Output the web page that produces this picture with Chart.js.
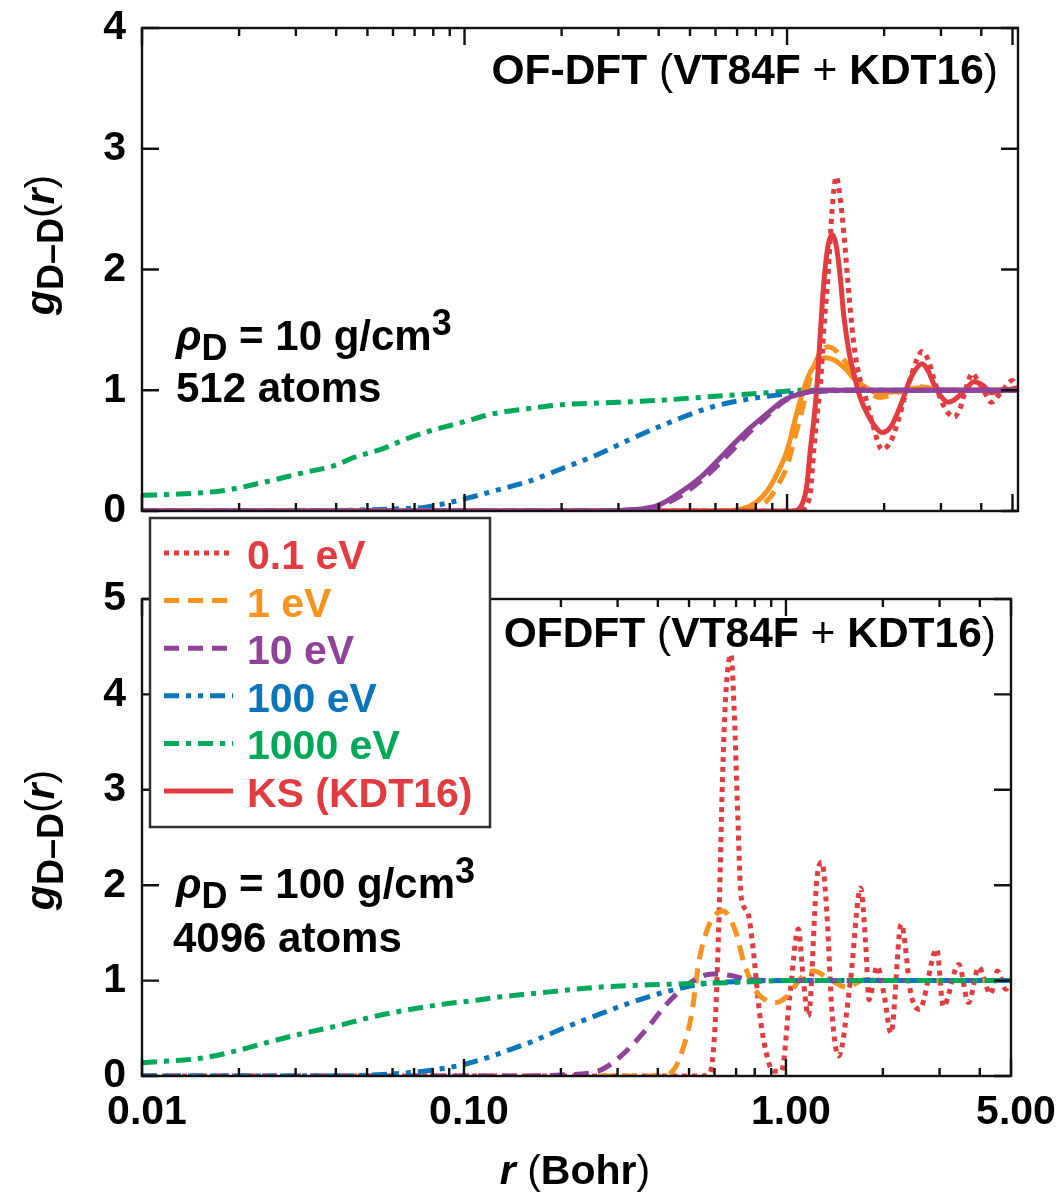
<!DOCTYPE html>
<html>
<head>
<meta charset="utf-8">
<script src="https://cdn.jsdelivr.net/npm/chart.js@4.4.1/dist/chart.umd.min.js"></script>
<style>
  body { margin: 0; background: #fff; width: 1059px; height: 1193px; position: relative; overflow: hidden; }
  #topWrap { position: absolute; left: 0; top: 0; width: 1059px; height: 540px; }
  #botWrap { position: absolute; left: 0; top: 505px; width: 1059px; height: 688px; }
</style>
</head>
<body>
<div id="topWrap"><canvas id="topChart"></canvas></div>
<div id="botWrap"><canvas id="botChart"></canvas></div>
<script>
// axis ticks
const X_TICKS = [0.01, 0.1, 1, 5];
const X_TICK_LABELS = ['0.01', '0.10', '1.00', '5.00'];
const X_MINOR = [0.02, 0.03, 0.04, 0.05, 0.06, 0.07, 0.08, 0.09,
                 0.2, 0.3, 0.4, 0.5, 0.6, 0.7, 0.8, 0.9, 2, 3, 4];
const TOP_Y_TICKS = [0, 1, 2, 3, 4];
const BOT_Y_TICKS = [0, 1, 2, 3, 4, 5];

// top panel: 10 g/cm3, 512 atoms
const top1000_r = [0.01, 0.013, 0.018, 0.024, 0.032, 0.04, 0.045, 0.055, 0.065, 0.073, 0.085, 0.1, 0.12, 0.14, 0.16, 0.2, 0.3, 0.42, 0.6, 0.87, 1.1, 1.5, 2.5, 5.2];
const top1000_g = [0.13, 0.14, 0.17, 0.24, 0.32, 0.38, 0.44, 0.51, 0.59, 0.64, 0.69, 0.74, 0.8, 0.83, 0.85, 0.88, 0.9, 0.92, 0.95, 0.98, 1.0, 1.0, 1.0, 1.0];
const top100_r = [0.01, 0.03, 0.05, 0.065, 0.075, 0.09, 0.1, 0.125, 0.16, 0.2, 0.26, 0.33, 0.42, 0.6, 0.87, 1.24, 2, 5.2];
const top100_g = [0, 0, 0.01, 0.02, 0.03, 0.07, 0.1, 0.17, 0.25, 0.35, 0.47, 0.6, 0.72, 0.87, 0.95, 0.99, 1.0, 1.0];
const top10_r = [0.01, 0.25, 0.33, 0.4, 0.47, 0.54, 0.61, 0.68, 0.77, 0.87, 0.98, 1.1, 1.3, 1.6, 5.2];
const top10ks_g = [0, 0, 0.01, 0.05, 0.16, 0.28, 0.42, 0.55, 0.69, 0.81, 0.92, 0.97, 1.0, 1.0, 1.0];
const top10of_g = [0, 0, 0.01, 0.04, 0.13, 0.25, 0.38, 0.51, 0.66, 0.79, 0.91, 0.97, 1.0, 1.0, 1.0];
const top1ks_r = [0.01, 0.6, 0.73, 0.8, 0.87, 0.94, 1.0, 1.05, 1.1, 1.18, 1.25, 1.32, 1.4, 1.47, 1.55, 1.62, 1.74, 1.9, 2.2, 2.6, 3.2, 5.2];
const top1ks_g = [0, 0, 0.02, 0.07, 0.17, 0.33, 0.5, 0.72, 0.92, 1.15, 1.24, 1.27, 1.25, 1.21, 1.15, 1.09, 1.03, 0.98, 0.99, 1.02, 1.0, 1.0];
const top1of_r = [0.01, 0.65, 0.78, 0.87, 0.94, 1.0, 1.05, 1.1, 1.18, 1.26, 1.34, 1.4, 1.47, 1.55, 1.62, 1.7, 1.78, 1.94, 2.2, 2.6, 3.0, 5.2];
const top1of_g = [0, 0, 0.03, 0.09, 0.22, 0.37, 0.58, 0.78, 1.1, 1.3, 1.36, 1.34, 1.28, 1.2, 1.11, 1.04, 0.99, 0.94, 0.98, 1.03, 1.0, 1.0];
const top01ks_r = [0.01, 1.05, 1.1, 1.15, 1.18, 1.21, 1.24, 1.27, 1.3, 1.34, 1.38, 1.42, 1.46, 1.5, 1.56, 1.62, 1.68, 1.74, 1.85, 1.97, 2.1, 2.26, 2.4, 2.5, 2.62, 2.75, 2.84, 3.0, 3.16, 3.3, 3.56, 3.8, 4.05, 4.3, 4.7, 5.2];
const top01ks_g = [0, 0, 0.03, 0.2, 0.5, 0.75, 1.06, 1.5, 1.89, 2.2, 2.29, 2.2, 1.95, 1.61, 1.3, 1.11, 0.95, 0.85, 0.72, 0.65, 0.7, 0.89, 1.08, 1.17, 1.22, 1.15, 1.06, 0.95, 0.9, 0.92, 1.0, 1.07, 1.04, 0.98, 1.0, 1.02];
const top01of_r = [0.01, 1.1, 1.15, 1.18, 1.21, 1.24, 1.27, 1.3, 1.34, 1.38, 1.42, 1.46, 1.5, 1.56, 1.62, 1.68, 1.74, 1.85, 1.97, 2.1, 2.2, 2.32, 2.42, 2.52, 2.62, 2.74, 2.84, 3.0, 3.16, 3.3, 3.45, 3.6, 3.75, 3.9, 4.1, 4.3, 4.6, 5.0, 5.2];
const top01of_g = [0, 0, 0.05, 0.15, 0.5, 0.8, 1.06, 1.5, 1.95, 2.5, 2.77, 2.6, 2.3, 1.75, 1.33, 1.1, 0.97, 0.7, 0.51, 0.58, 0.73, 0.95, 1.11, 1.25, 1.32, 1.25, 1.11, 0.92, 0.81, 0.78, 0.86, 1.03, 1.14, 1.08, 0.98, 0.9, 0.98, 1.08, 1.0];

// bottom panel: 100 g/cm3, 4096 atoms
const bot1000_r = [0.01, 0.0155, 0.02, 0.025, 0.032, 0.041, 0.052, 0.066, 0.085, 0.107, 0.13, 0.16, 0.26, 0.42, 0.68, 1.0, 5.0];
const bot1000_g = [0.14, 0.19, 0.27, 0.36, 0.45, 0.53, 0.62, 0.69, 0.75, 0.79, 0.83, 0.86, 0.93, 0.96, 0.98, 1.0, 1.0];
const bot100_r = [0.01, 0.04, 0.052, 0.065, 0.075, 0.09, 0.1, 0.12, 0.14, 0.16, 0.2, 0.26, 0.33, 0.42, 0.54, 0.7, 1.0, 5.0];
const bot100_g = [0, 0, 0.01, 0.03, 0.05, 0.09, 0.12, 0.2, 0.28, 0.35, 0.49, 0.64, 0.77, 0.88, 0.96, 0.99, 1.0, 1.0];
const bot10_r = [0.01, 0.15, 0.2, 0.26, 0.29, 0.33, 0.375, 0.42, 0.475, 0.536, 0.59, 0.68, 0.77, 1.0, 5.0];
const bot10_g = [0, 0, 0.01, 0.05, 0.14, 0.31, 0.52, 0.73, 0.91, 1.03, 1.07, 1.05, 1.01, 1.0, 1.0];
const bot1_r = [0.01, 0.42, 0.455, 0.48, 0.51, 0.536, 0.57, 0.6, 0.64, 0.67, 0.7, 0.74, 0.8, 0.87, 0.93, 1.03, 1.1, 1.22, 1.37, 1.55, 1.75, 2.2, 5.0];
const bot1_g = [0, 0, 0.1, 0.3, 0.66, 1.19, 1.54, 1.68, 1.73, 1.65, 1.5, 1.19, 0.91, 0.79, 0.77, 0.87, 1.01, 1.1, 1.01, 0.93, 1.01, 1.0, 1.0];
const bot01_r = [0.01, 0.536, 0.576, 0.59, 0.605, 0.62, 0.635, 0.65, 0.675, 0.691, 0.708, 0.725, 0.76, 0.789, 0.828, 0.869, 0.912, 0.968, 1.028, 1.092, 1.132, 1.174, 1.247, 1.292, 1.34, 1.39, 1.458, 1.587, 1.705, 1.77, 1.81, 1.92, 2.02, 2.12, 2.28, 2.45, 2.6, 2.94, 3.08, 3.44, 3.69, 3.97, 4.32, 4.54, 4.82, 5.0];
const bot01_g = [0, 0, 0.02, 0.14, 0.66, 1.71, 3.1, 3.98, 4.42, 3.81, 2.76, 1.89, 1.72, 1.36, 0.66, 0.24, 0.05, 0.05, 0.84, 1.54, 1.01, 0.63, 2.06, 2.24, 1.71, 0.66, 0.21, 1.01, 1.97, 1.36, 0.8, 1.15, 0.84, 0.45, 1.59, 0.84, 0.7, 1.33, 0.73, 1.17, 0.77, 1.14, 0.86, 1.1, 0.91, 1.0];

const RED = '#e23c41', ORANGE = '#f7931e', PURPLE = '#904199', BLUE = '#0b75bc', GREEN = '#00a85a';
const DOT = [5, 5], DASH = [15, 9], DASHDOTDOT = [15, 7, 5, 7, 5, 7], DASHDOT = [15, 7, 5, 7];

const FAM = '"Liberation Sans", Arial, Helvetica, sans-serif';
const B = 'bold 41px ' + FAM;
const BI = 'italic bold 41px ' + FAM;
const N = '41px ' + FAM;
const CB = 'bold 42.5px ' + FAM;
const CN = '42.5px ' + FAM;
const SUB = 'bold 34px ' + FAM;
const SUB2 = 'bold 36px ' + FAM;

function pts(rs, gs) {
    return rs.map((r, i) => ({ x: r, y: gs[i] }));
}

function line(label, rs, gs, color, dash) {
    return {
        label: label,
        data: pts(rs, gs),
        borderColor: color,
        borderWidth: 5,
        borderDash: dash,
        borderCapStyle: 'butt',
        pointRadius: 0,
        fill: false,
        cubicInterpolationMode: 'monotone'
    };
}

function drawRuns(ctx, item) {
    ctx.save();
    ctx.translate(item.x, item.y);
    if (item.rotate) ctx.rotate(item.rotate);
    let w = 0;
    item.runs.forEach(r => { ctx.font = r.f; w += ctx.measureText(r.t).width; });
    let x = item.align === 'right' ? -w : (item.align === 'center' ? -w / 2 : 0);
    ctx.fillStyle = item.color || '#000';
    ctx.textAlign = 'left';
    ctx.textBaseline = 'alphabetic';
    item.runs.forEach(r => {
        ctx.font = r.f;
        ctx.fillText(r.t, x, r.dy || 0);
        x += ctx.measureText(r.t).width;
    });
    ctx.restore();
}

const LEGEND = [
    ['0.1 eV', RED, DOT],
    ['1 eV', ORANGE, DASH],
    ['10 eV', PURPLE, DASH],
    ['100 eV', BLUE, DASHDOTDOT],
    ['1000 eV', GREEN, DASHDOT],
    ['KS (KDT16)', RED, []]
];

function drawLegend(ctx) {
    ctx.save();
    ctx.fillStyle = '#fff';
    ctx.fillRect(150, 518, 340, 309);
    ctx.strokeStyle = '#333';
    ctx.lineWidth = 2.5;
    ctx.strokeRect(150, 518, 340, 309);
    LEGEND.forEach((it, i) => {
        const y = 553 + i * 47.6;
        ctx.beginPath();
        ctx.setLineDash(it[2]);
        ctx.strokeStyle = it[1];
        ctx.lineWidth = 5;
        ctx.moveTo(164, y);
        ctx.lineTo(233, y);
        ctx.stroke();
        ctx.setLineDash([]);
        ctx.font = B;
        ctx.fillStyle = it[1];
        ctx.textAlign = 'left';
        ctx.textBaseline = 'alphabetic';
        ctx.fillText(it[0], 247, y + 16);
    });
    ctx.restore();
}

const panelDecor = {
    id: 'panelDecor',
    afterDraw(chart, args, opts) {
        const ctx = chart.ctx, a = chart.chartArea;
        const xs = chart.scales.x, ys = chart.scales.y;
        ctx.save();
        ctx.strokeStyle = '#111';
        ctx.lineWidth = 2.4;
        ctx.setLineDash([]);
        ctx.strokeRect(a.left, a.top, a.right - a.left, a.bottom - a.top);
        ctx.beginPath();
        opts.yTicks.forEach(v => {
            const y = ys.getPixelForValue(v);
            ctx.moveTo(a.left, y); ctx.lineTo(a.left + 17, y);
            ctx.moveTo(a.right, y); ctx.lineTo(a.right - 17, y);
        });
        const xt = (v, len) => {
            if (v > xs.max || v < xs.min) return;
            const x = xs.getPixelForValue(v);
            ctx.moveTo(x, a.bottom); ctx.lineTo(x, a.bottom - len);
            ctx.moveTo(x, a.top); ctx.lineTo(x, a.top + len);
        };
        X_MINOR.forEach(v => xt(v, 8));
        X_TICKS.forEach(v => xt(v, 17));
        ctx.stroke();
        ctx.translate(0, -opts.offsetY);
        opts.texts.forEach(t => drawRuns(ctx, t));
        if (opts.legend) drawLegend(ctx);
        ctx.restore();
    }
};

function makeOptions(cfg) {
    return {
        responsive: true,
        maintainAspectRatio: false,
        animation: false,
        devicePixelRatio: 1,
        events: [],
        layout: { padding: { top: cfg.padTop, right: cfg.padRight, left: 0, bottom: 0 } },
        scales: {
            x: {
                type: 'logarithmic',
                min: 0.01,
                max: cfg.xmax,
                grid: { display: false, drawTicks: false },
                border: { display: false },
                afterBuildTicks: s => { s.ticks = X_TICKS.filter(v => v <= cfg.xmax + 1e-9).map(v => ({ value: v })); },
                afterFit: s => { s.height = cfg.xHeight; s.paddingLeft = 0; s.paddingRight = 0; },
                ticks: {
                    display: cfg.showX,
                    autoSkip: false,
                    maxRotation: 0,
                    padding: 12,
                    labelOffset: 5,
                    color: '#000',
                    font: { family: FAM, size: 41, weight: 'bold' },
                    callback: v => X_TICK_LABELS[X_TICKS.indexOf(v)]
                }
            },
            y: {
                min: 0,
                max: cfg.ymax,
                grid: { display: false, drawTicks: false },
                border: { display: false },
                afterFit: s => { s.width = 142; s.paddingTop = 0; s.paddingBottom = 0; },
                ticks: {
                    stepSize: 1,
                    padding: 16,
                    color: '#000',
                    font: { family: FAM, size: 41, weight: 'bold' }
                }
            }
        },
        plugins: {
            legend: { display: false },
            tooltip: { enabled: false },
            panelDecor: cfg.decor
        }
    };
}

const yTitle = (cy) => ({
    x: 54, y: cy, align: 'center', rotate: -Math.PI / 2,
    runs: [{ t: 'g', f: BI }, { t: 'D–D', f: SUB2, dy: 9 }, { t: '(', f: N }, { t: 'r', f: BI }, { t: ')', f: N }]
});

const caption = (first) => [
    { t: first + ' ', f: CB }, { t: '(', f: CN }, { t: 'VT84F ', f: CB },
    { t: '+', f: CN }, { t: ' KDT16', f: CB }, { t: ')', f: CN }
];

const rhoLine = (val) => [
    { t: 'ρ', f: 'italic bold 42px ' + FAM }, { t: 'D', f: SUB2, dy: 10 },
    { t: ' = ' + val + ' g/cm', f: 'bold 42px ' + FAM }, { t: '3', f: SUB2, dy: -15 }
];

new Chart(document.getElementById('topChart'), {
    type: 'line',
    data: {
        datasets: [
            line('10 eV KS', top10_r, top10ks_g, PURPLE, []),
            line('10 eV', top10_r, top10of_g, PURPLE, DASH),
            line('KS 0.1 eV', top01ks_r, top01ks_g, RED, []),
            line('0.1 eV', top01of_r, top01of_g, RED, DOT),
            line('1 eV KS', top1ks_r, top1ks_g, ORANGE, []),
            line('1 eV', top1of_r, top1of_g, ORANGE, DASH),
            line('100 eV', top100_r, top100_g, BLUE, DASHDOTDOT),
            line('1000 eV', top1000_r, top1000_g, GREEN, DASHDOT)
        ]
    },
    options: makeOptions({
        xmax: 5.2, ymax: 4, padTop: 28, padRight: 41, xHeight: 29, showX: false,
        decor: {
            offsetY: 0,
            yTicks: TOP_Y_TICKS,
            legend: false,
            texts: [
                { x: 998, y: 84, align: 'right', runs: caption('OF-DFT') },
                { x: 176, y: 350, align: 'left', runs: rhoLine('10') },
                { x: 176, y: 402, align: 'left', runs: [{ t: '512 atoms', f: 'bold 42px ' + FAM }] },
                yTitle(245)
            ]
        }
    }),
    plugins: [panelDecor]
});

new Chart(document.getElementById('botChart'), {
    type: 'line',
    data: {
        datasets: [
            line('1000 eV', bot1000_r, bot1000_g, GREEN, DASHDOT),
            line('100 eV', bot100_r, bot100_g, BLUE, DASHDOTDOT),
            line('10 eV', bot10_r, bot10_g, PURPLE, DASH),
            line('1 eV', bot1_r, bot1_g, ORANGE, DASH),
            line('0.1 eV', bot01_r, bot01_g, RED, DOT)
        ]
    },
    options: makeOptions({
        xmax: 5.0, ymax: 5, padTop: 94, padRight: 48, xHeight: 117, showX: true,
        decor: {
            offsetY: 505,
            yTicks: BOT_Y_TICKS,
            legend: true,
            texts: [
                { x: 996, y: 647, align: 'right', runs: caption('OFDFT') },
                { x: 176, y: 898, align: 'left', runs: rhoLine('100') },
                { x: 173, y: 952, align: 'left', runs: [{ t: '4096 atoms', f: 'bold 42px ' + FAM }] },
                yTitle(840),
                { x: 575, y: 1184, align: 'center',
                  runs: [{ t: 'r', f: BI }, { t: ' ', f: B }, { t: '(', f: N }, { t: 'Bohr', f: B }, { t: ')', f: N }] }
            ]
        }
    }),
    plugins: [panelDecor]
});
</script>
</body>
</html>
